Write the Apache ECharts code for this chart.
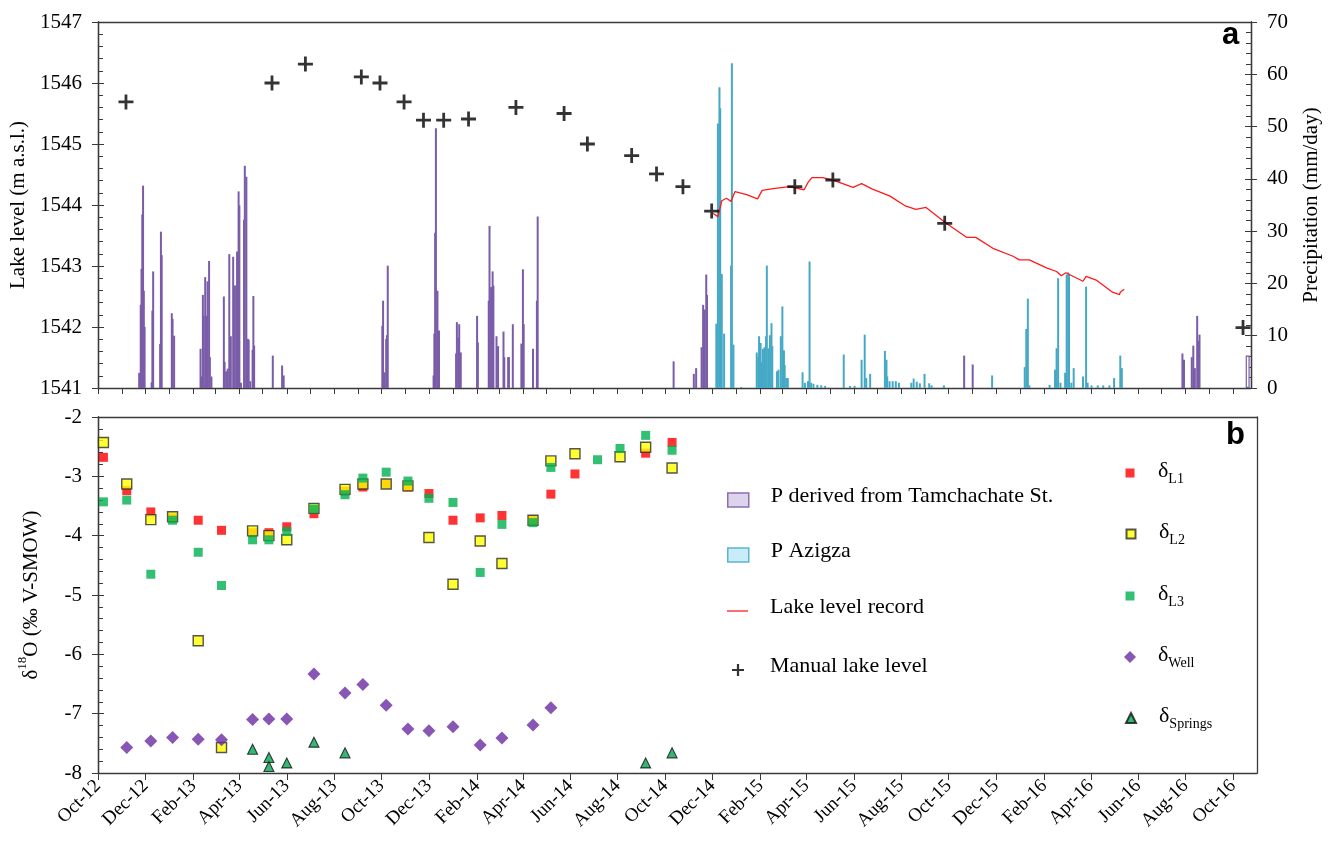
<!DOCTYPE html>
<html><head><meta charset="utf-8">
<script src="https://cdn.jsdelivr.net/npm/echarts@6/dist/echarts.min.js"></script>
<style>html,body{margin:0;padding:0;background:#fff}#c{width:1331px;height:842px}</style>
</head><body><div id="c"></div>
<script>
// ---------------- DATA ----------------
const xTickLabels = ['Oct-12','Dec-12','Feb-13','Apr-13','Jun-13','Aug-13','Oct-13','Dec-13','Feb-14','Apr-14','Jun-14','Aug-14','Oct-14','Dec-14','Feb-15','Apr-15','Jun-15','Aug-15','Oct-15','Dec-15','Feb-16','Apr-16','Jun-16','Aug-16','Oct-16'];

// Precipitation derived from Tamchachate station [date, mm/day]
const precipTamchachate = [
['2012-11-23',2.9],['2012-11-25',15.9],['2012-11-26',22.8],['2012-11-27',33.2],['2012-11-28',38.7],['2012-11-29',18.6],['2012-11-30',11.7],
['2012-12-09',1.1],['2012-12-10',14.8],['2012-12-11',22.3],['2012-12-20',8.4],['2012-12-21',29.9],['2012-12-22',25.4],
['2013-01-04',14.3],['2013-01-05',13.2],['2013-01-07',10.0],
['2013-02-10',7.5],['2013-02-11',2.2],['2013-02-13',17.8],['2013-02-14',13.8],['2013-02-16',21.2],['2013-02-18',13.8],['2013-02-19',20.4],['2013-02-21',24.3],['2013-02-22',5.9],['2013-02-24',2.2],
['2013-03-12',17.5],['2013-03-13',5.0],['2013-03-15',3.2],['2013-03-17',3.7],['2013-03-19',25.6],['2013-03-21',9.9],['2013-03-24',25.1],['2013-03-26',19.6],['2013-03-28',19.6],['2013-03-29',26.1],['2013-03-31',37.6],
['2013-04-01',34.9],['2013-04-03',1.0],['2013-04-07',32.2],['2013-04-08',42.5],['2013-04-10',40.4],['2013-04-12',9.4],['2013-04-13',9.2],['2013-04-15',1.3],['2013-04-18',7.3],['2013-04-19',17.6],['2013-04-20',8.1],
['2013-05-14',6.2],['2013-05-26',4.3],['2013-05-28',2.4],
['2013-10-02',11.9],['2013-10-03',16.7],['2013-10-05',3.0],['2013-10-07',9.4],['2013-10-08',10.1],['2013-10-09',23.4],
['2013-12-07',2.4],['2013-12-08',10.4],['2013-12-09',29.7],['2013-12-10',49.7],['2013-12-12',18.6],['2013-12-14',11.0],
['2014-01-05',6.6],['2014-01-06',12.6],['2014-01-08',9.7],['2014-01-09',12.2],['2014-01-11',6.8],
['2014-02-01',13.8],['2014-02-02',8.7],['2014-02-16',16.7],['2014-02-17',31.0],['2014-02-19',19.3],['2014-02-21',22.3],['2014-02-22',19.6],['2014-02-26',9.9],['2014-02-28',8.0],
['2014-03-07',10.8],['2014-03-08',5.9],['2014-03-13',5.9],['2014-03-14',5.9],['2014-03-19',12.2],['2014-03-30',8.5],
['2014-04-01',22.7],['2014-04-02',12.2],['2014-04-14',7.5],['2014-04-19',16.7],['2014-04-20',32.8],
['2014-10-12',5.1],['2014-11-07',2.7],['2014-11-10',3.8],['2014-11-17',7.8],['2014-11-19',15.9],['2014-11-21',15.0],['2014-11-23',21.7],['2014-11-24',17.8],
['2015-10-21',6.2],['2015-11-01',4.5],
['2016-07-28',6.6],['2016-07-30',5.4],['2016-08-09',5.9],['2016-08-11',8.1],['2016-08-13',3.8],['2016-08-16',13.8],['2016-08-18',9.0],['2016-08-19',10.2]
];
const precipTamchachateOpen = [['2016-10-20',6.2]];

// Precipitation at Azigza [date, mm/day]
const precipAzigza = [
['2014-12-06',12.3],['2014-12-08',50.6],['2014-12-10',57.5],['2014-12-11',53.5],['2014-12-13',21.8],['2014-12-16',10.4],['2014-12-25',23.4],['2014-12-26',62.1],['2014-12-28',8.3],['2015-01-07',0.2],
['2015-01-27',6.8],['2015-01-29',6.0],['2015-01-30',9.9],['2015-02-01',8.6],['2015-02-02',4.9],['2015-02-04',7.5],['2015-02-06',7.8],['2015-02-08',9.9],['2015-02-09',23.4],['2015-02-11',7.6],['2015-02-13',10.1],['2015-02-15',12.4],['2015-02-16',8.0],['2015-02-22',3.2],['2015-02-24',3.5],['2015-02-27',9.9],
['2015-03-01',15.6],['2015-03-03',7.2],['2015-03-04',4.4],['2015-03-06',1.9],['2015-03-08',1.9],['2015-03-27',3.0],['2015-03-30',1.0],
['2015-04-03',1.3],['2015-04-05',24.2],['2015-04-07',1.0],['2015-04-10',0.8],['2015-04-15',0.6],['2015-04-20',0.5],['2015-04-25',0.4],
['2015-05-19',6.4],['2015-05-27',0.4],['2015-06-02',0.4],['2015-06-11',5.4],['2015-06-15',10.2],['2015-06-17',1.9],['2015-06-22',2.7],
['2015-07-11',7.1],['2015-07-13',5.4],['2015-07-14',2.2],['2015-07-17',1.3],['2015-07-21',1.3],['2015-07-25',1.3],['2015-07-29',1.0],
['2015-08-14',1.0],['2015-08-17',1.8],['2015-08-21',1.2],['2015-08-25',0.9],['2015-08-31',2.7],['2015-09-06',0.9],['2015-09-09',0.5],['2015-09-25',0.5],
['2015-11-26',2.4],
['2016-01-07',4.0],['2016-01-09',11.3],['2016-01-11',17.1],['2016-01-13',0.5],['2016-02-08',0.6],['2016-02-15',3.5],['2016-02-17',7.6],['2016-02-19',21.0],['2016-02-22',1.0],['2016-02-28',2.9],
['2016-03-01',21.7],['2016-03-03',22.1],['2016-03-04',21.7],['2016-03-07',1.0],['2016-03-10',3.8],['2016-03-22',2.2],['2016-03-26',19.4],['2016-03-28',1.0],
['2016-04-02',0.5],['2016-04-10',0.5],['2016-04-17',0.5],['2016-04-25',0.5],['2016-05-01',1.9],['2016-05-09',6.2],['2016-05-11',3.8]
];

// Lake level record (logger) [date, m a.s.l.]
const lakeRecord = [
['2014-12-02',1543.86],['2014-12-08',1543.81],['2014-12-13',1544.07],['2014-12-19',1544.11],['2014-12-25',1544.06],['2014-12-30',1544.22],
['2015-01-14',1544.17],['2015-01-28',1544.10],['2015-02-03',1544.24],['2015-02-17',1544.27],['2015-03-10',1544.30],['2015-03-29',1544.25],
['2015-04-03',1544.37],['2015-04-08',1544.45],['2015-04-22',1544.45],['2015-05-07',1544.40],['2015-05-31',1544.29],['2015-06-11',1544.35],['2015-06-25',1544.26],
['2015-07-17',1544.15],['2015-08-07',1543.98],['2015-08-20',1543.93],['2015-09-02',1543.96],['2015-09-27',1543.71],['2015-10-24',1543.47],['2015-11-05',1543.47],
['2015-11-27',1543.29],['2015-12-23',1543.16],['2015-12-31',1543.10],['2016-01-13',1543.10],['2016-02-04',1542.97],['2016-02-17',1542.91],['2016-02-23',1542.84],
['2016-02-29',1542.89],['2016-03-22',1542.75],['2016-03-26',1542.83],['2016-04-08',1542.77],['2016-04-29',1542.57],['2016-05-08',1542.53],['2016-05-09',1542.57],['2016-05-14',1542.62]
];

// Manual lake level readings [date, m a.s.l.]
const manualLake = [
['2012-11-06',1545.69],['2013-05-13',1546.00],['2013-06-25',1546.31],['2013-09-05',1546.10],['2013-09-29',1546.00],['2013-10-30',1545.69],
['2013-11-24',1545.39],['2013-12-20',1545.39],['2014-01-21',1545.41],['2014-03-23',1545.60],['2014-05-24',1545.50],['2014-06-23',1545.00],
['2014-08-19',1544.81],['2014-09-20',1544.51],['2014-10-24',1544.30],['2014-11-30',1543.90],['2015-03-17',1544.30],['2015-05-05',1544.41],
['2015-09-26',1543.70],['2016-10-14',1541.99]
];

// Isotope sampling dates and delta18O values (per mil V-SMOW)
const isoDates = ['2012-10-08','2012-11-07','2012-12-08','2013-01-05','2013-02-07','2013-03-09','2013-04-18','2013-05-09','2013-06-01','2013-07-06','2013-08-15','2013-09-07','2013-10-07','2013-11-04','2013-12-01','2014-01-01','2014-02-05','2014-03-05','2014-04-14','2014-05-07','2014-06-07','2014-07-06','2014-08-04','2014-09-06','2014-10-10'];
const dL1 = [-2.68,-3.24,-3.60,-3.70,-3.74,-3.91,-3.95,-3.95,-3.85,-3.63,-3.25,-3.18,-3.13,-3.18,-3.29,-3.74,-3.70,-3.66,-3.74,-3.30,-2.96,null,null,-2.61,-2.43];
const dL2 = [-2.43,-3.13,-3.73,-3.68,-5.77,-7.57,-3.92,-4.00,-4.07,-3.54,-3.22,-3.13,-3.13,-3.16,-4.03,-4.82,-4.09,-4.47,-3.74,-2.74,-2.62,null,-2.67,-2.51,-2.86];
const dL3 = [-3.43,-3.40,-4.65,-3.74,-4.28,-4.84,-4.07,-4.07,-3.93,-3.55,-3.31,-3.03,-2.93,-3.08,-3.37,-3.44,-4.62,-3.81,-3.78,-2.85,null,-2.72,-2.53,-2.31,-2.56];
const dWell = [null,-7.57,-7.46,-7.40,-7.43,-7.44,-7.10,-7.09,-7.09,-6.33,-6.65,-6.51,-6.86,-7.26,-7.29,-7.22,-7.53,-7.41,-7.19,-6.90,null,null,null,null,null];
const springDates = ['2013-04-18','2013-05-09','2013-05-09','2013-06-01','2013-07-06','2013-08-15','2014-09-06','2014-10-10'];
const dSprings = [-7.60,-7.74,-7.89,-7.83,-7.48,-7.66,-7.83,-7.66];

// ---------------- HELPERS ----------------
const MONTHS = ['Jan','Feb','Mar','Apr','May','Jun','Jul','Aug','Sep','Oct','Nov','Dec'];
const ts = s => Date.UTC(+s.slice(0,4), +s.slice(5,7)-1, +s.slice(8,10));
const xTickValues = xTickLabels.map(l => Date.UTC(2000 + +l.slice(4), MONTHS.indexOf(l.slice(0,3)), 1));
const labelOf = {}; xTickLabels.forEach((l,i) => { labelOf[xTickValues[i]] = l; });
const monthTicks = [];
for (let y = 2012, m = 9; y < 2016 || (y === 2016 && m <= 9);) { monthTicks.push(Date.UTC(y, m, 1)); m++; if (m > 11) { m = 0; y++; } }
const pairs = arr => arr.map(p => [ts(p[0]), p[1]]);
const zipIso = (dates, vals) => dates.map((d,i) => [ts(d), vals[i]]).filter(p => p[1] !== null);

const X_MIN = ts('2012-10-01');
const X_MAX_B = ts('2016-11-01');
const X_MAX_T = X_MIN + (X_MAX_B - X_MIN) * 1153 / 1159;

const SERIF = 'Liberation Serif';
const AX = '#3a3a3a';
const PURPLE = '#7a5ca8', CYAN = '#45a9c5';
const PLUS = 'path://M5.7,0H8.3V5.7H14V8.3H8.3V14H5.7V8.3H0V5.7H5.7Z';
const LEG_LINE = 'path://M0,0H21V1.4H0Z';

const lineOnly = { show: true, onZero: false, lineStyle: { color: AX, width: 1.3 } };
const tickStyle = { color: AX, width: 1 };

function xAx(grid, pos, max, extra) {
  return Object.assign({ gridIndex: grid, type: 'value', position: pos, min: X_MIN, max: max,
    axisLine: lineOnly, axisTick: { show: false }, axisLabel: { show: false }, splitLine: { show: false } }, extra || {});
}
function yAx(grid, pos, min, max, interval, extra) {
  return Object.assign({ gridIndex: grid, type: 'value', position: pos, min: min, max: max, interval: interval,
    axisLine: lineOnly, splitLine: { show: false },
    axisTick: { show: true, length: 6, lineStyle: tickStyle },
    axisLabel: { show: true, fontFamily: SERIF, fontSize: 21, color: '#000', margin: 16, formatter: v => String(v) } }, extra || {});
}
function yInner(grid, pos, min, max, interval) {
  return yAx(grid, pos, min, max, interval, {
    axisLabel: { show: false },
    axisTick: { show: true, inside: true, length: 6, lineStyle: tickStyle },
    minorTick: { show: true, splitNumber: 5, length: 5, lineStyle: tickStyle }
  });
}

// legends
const legendBase = { orient: 'horizontal', selectedMode: false, padding: 0, itemGap: 0 };
function legLeft(name, left, top, w, h, gap, item) {
  return Object.assign({}, legendBase, {
    left: left, top: top, itemWidth: w, itemHeight: h,
    data: [Object.assign({ name: name }, item || {})],
    formatter: n => '{g| }{t|' + n + '}',
    textStyle: { rich: {
      g: { width: gap, lineHeight: 30, fontSize: 10 },
      t: { fontFamily: SERIF, fontSize: 22, color: '#000', lineHeight: 22, verticalAlign: 'top' }
    } }
  });
}
const SUBS = { 'δL1': 'L1', 'δL2': 'L2', 'δL3': 'L3', 'δWell': 'Well', 'δSprings': 'Springs' };
function legRight(name, cx, top, w, h) {
  const left = cx - w / 2;
  return Object.assign({}, legendBase, {
    left: left, top: top, itemWidth: w, itemHeight: h,
    data: [name],
    formatter: n => '{g| }{d|δ}{s|' + SUBS[n] + '}',
    textStyle: { rich: {
      g: { width: 1158 - left - w - 5, fontSize: 10, lineHeight: 10 },
      d: { fontFamily: SERIF, fontSize: 22, color: '#000', lineHeight: 26, verticalAlign: 'top' },
      s: { fontFamily: SERIF, fontSize: 14, color: '#000', lineHeight: 14, verticalAlign: 'bottom' }
    } }
  });
}

const option = {
  animation: false,
  backgroundColor: '#fff',
  grid: [
    { left: 98, top: 22, width: 1153, height: 366 },
    { left: 98, top: 417, width: 1159, height: 356 }
  ],
  xAxis: [
    xAx(0, 'bottom', X_MAX_T, { axisTick: { show: true, length: 6, lineStyle: tickStyle, customValues: monthTicks } }),
    xAx(0, 'top', X_MAX_T),
    xAx(1, 'bottom', X_MAX_B, {
      axisTick: { show: true, length: 7, lineStyle: tickStyle, customValues: xTickValues },
      axisLabel: { show: true, customValues: xTickValues, formatter: v => labelOf[v] || '', rotate: 45,
        fontFamily: SERIF, fontSize: 19, color: '#000', margin: 10 }
    }),
    xAx(1, 'top', X_MAX_B)
  ],
  yAxis: [
    yAx(0, 'left', 1541, 1547, 1, { name: 'Lake level (m a.s.l.)', nameLocation: 'middle', nameGap: 68,
      nameTextStyle: { fontFamily: SERIF, fontSize: 21, color: '#000' } }),
    yInner(0, 'left', 1541, 1547, 1),
    yAx(0, 'right', 0, 70, 10, { name: 'Precipitation (mm/day)', nameLocation: 'middle', nameGap: 50,
      nameTextStyle: { fontFamily: SERIF, fontSize: 21, color: '#000' } }),
    yInner(0, 'right', 0, 70, 10),
    yAx(1, 'left', -8, -2, 1, { name: '{m|δ}{p|18}{m|O (‰ V-SMOW)}', nameLocation: 'middle', nameGap: 56,
      nameTextStyle: { fontFamily: SERIF, fontSize: 21, color: '#000', rich: {
        m: { fontFamily: SERIF, fontSize: 21, color: '#000', lineHeight: 26, verticalAlign: 'bottom' },
        p: { fontFamily: SERIF, fontSize: 13, color: '#000', lineHeight: 13, verticalAlign: 'top' }
      } } }),
    yInner(1, 'left', -8, -2, 1),
    yAx(1, 'right', -8, -2, 1, { axisTick: { show: false }, axisLabel: { show: false } })
  ],
  legend: [
    legLeft('P derived from Tamchachate St.', 727, 485, 21, 14, 17, { icon: 'rect', itemStyle: { color: '#ddd4ec', borderColor: '#8a70b0', borderWidth: 1.5 } }),
    legLeft('P Azigza', 727, 540, 21, 14, 17, { icon: 'rect', itemStyle: { color: '#c8ecf8', borderColor: '#58b6d2', borderWidth: 1.5 } }),
    legLeft('Lake level record', 727, 596, 21, 14, 17, { icon: LEG_LINE, itemStyle: { color: '#ff3030' } }),
    legLeft('Manual lake level', 732, 655, 12, 12, 21, { icon: PLUS, itemStyle: { color: '#000' } }),
    legRight('δL1', 1130, 460, 9, 9),
    legRight('δL2', 1130, 521, 9, 9),
    legRight('δL3', 1130, 583, 9, 9),
    legRight('δWell', 1130, 644, 12, 12),
    legRight('δSprings', 1130, 705, 10, 10)
  ],
  graphic: [
    { type: 'text', left: 1222, top: 20, style: { text: 'a', font: 'bold 31px "Liberation Sans"', fill: '#000' } },
    { type: 'text', left: 1226, top: 420, style: { text: 'b', font: 'bold 31px "Liberation Sans"', fill: '#000' } }
  ],
  series: [
    { name: 'P derived from Tamchachate St.', type: 'bar', xAxisIndex: 0, yAxisIndex: 2, barWidth: 2, barGap: '-100%',
      itemStyle: { color: PURPLE }, data: pairs(precipTamchachate), silent: true },
    { name: 'P Azigza', type: 'bar', xAxisIndex: 0, yAxisIndex: 2, barWidth: 2, barGap: '-100%',
      itemStyle: { color: CYAN }, data: pairs(precipAzigza), silent: true },
    { name: 'P derived (open)', type: 'bar', xAxisIndex: 1, yAxisIndex: 2, barWidth: 4,
      itemStyle: { color: '#fff', borderColor: PURPLE, borderWidth: 1.2 }, data: pairs(precipTamchachateOpen), silent: true },
    { name: 'Lake level record', type: 'line', xAxisIndex: 0, yAxisIndex: 0, symbol: 'none',
      lineStyle: { color: '#ff1a1a', width: 1.3 }, itemStyle: { color: '#ff1a1a' }, data: pairs(lakeRecord), silent: true, z: 3 },
    { name: 'Manual lake level', type: 'scatter', xAxisIndex: 0, yAxisIndex: 0, symbol: PLUS, symbolSize: 15,
      itemStyle: { color: '#000' }, data: pairs(manualLake), silent: true, z: 4 },
    { name: 'δL1', type: 'scatter', xAxisIndex: 2, yAxisIndex: 4, symbol: 'rect', symbolSize: 9,
      itemStyle: { color: '#ff0000' }, data: zipIso(isoDates, dL1), silent: true },
    { name: 'δL2', type: 'scatter', xAxisIndex: 2, yAxisIndex: 4, symbol: 'rect', symbolSize: 10,
      itemStyle: { color: '#ffff00', borderColor: '#2a2a2a', borderWidth: 1.4 }, data: zipIso(isoDates, dL2), silent: true },
    { name: 'δL3', type: 'scatter', xAxisIndex: 2, yAxisIndex: 4, symbol: 'rect', symbolSize: 9,
      itemStyle: { color: '#00b050' }, data: zipIso(isoDates, dL3), silent: true },
    { name: 'δWell', type: 'scatter', xAxisIndex: 2, yAxisIndex: 4, symbol: 'diamond', symbolSize: 13,
      itemStyle: { color: '#6a2ca0' }, data: zipIso(isoDates, dWell), silent: true },
    { name: 'δSprings', type: 'scatter', xAxisIndex: 2, yAxisIndex: 4, symbol: 'triangle', symbolSize: 10,
      itemStyle: { color: '#00a651', borderColor: '#111', borderWidth: 1.1 }, data: zipIso(springDates, dSprings), silent: true }
  ]
};

const chart = echarts.init(document.getElementById('c'), null, { renderer: 'canvas' });
chart.setOption(option);
</script>
</body></html>
